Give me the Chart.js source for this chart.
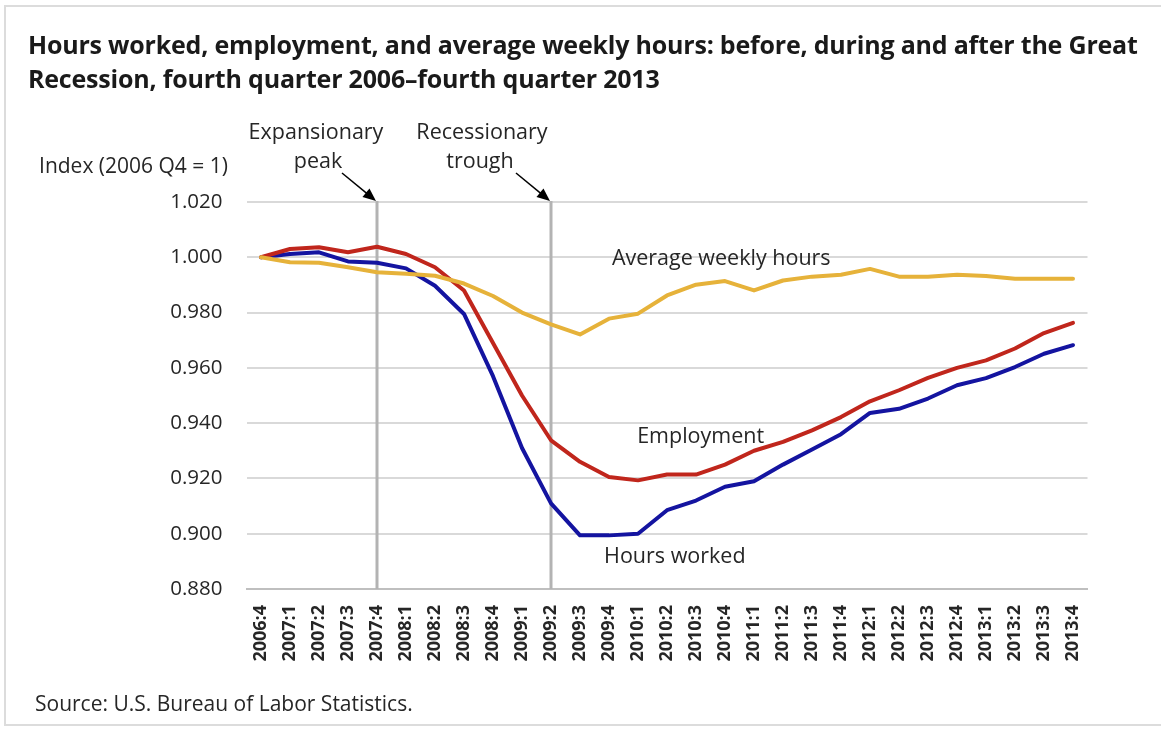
<!DOCTYPE html>
<html>
<head>
<meta charset="utf-8">
<script src="https://cdn.jsdelivr.net/npm/chart.js@4.4.1/dist/chart.umd.min.js"></script>
<style>
  html, body { margin: 0; padding: 0; background: #fff; overflow: hidden; }
  #wrap { position: relative; width: 1161px; height: 730px; }
  #frame { position: absolute; left: 4px; top: 5px; width: 1180px; height: 721px; border: 2px solid #dcdcdc; box-sizing: border-box; }
  #chart { position: absolute; left: 0; top: 0; }
  .txt { position: absolute; font-family: "Open Sans", sans-serif; color: #262626; white-space: nowrap; }
  #title { left: 28px; top: 27px; font-size: 25px; font-weight: 700; line-height: 34px; color: #1a1a1a; letter-spacing: -0.2px; }
  #ylabel { right: 933px; top: 151px; font-size: 21px; line-height: 28px; }
  #source { left: 35px; top: 689px; font-size: 21px; line-height: 28px; }
</style>
</head>
<body>
<div id="wrap">
  <div id="frame"></div>
  <canvas id="chart" width="1161" height="730"></canvas>
  <div class="txt" id="title">Hours worked, employment, and average weekly hours: before, during and after the Great<br>Recession, fourth quarter 2006–fourth  quarter 2013</div>
  <div class="txt" id="ylabel">Index (2006 Q4 = 1)</div>
  <div class="txt" id="source">Source: U.S. Bureau of Labor Statistics.</div>
</div>
<script>
const quarters = [
  '2006:4',
  '2007:1', '2007:2', '2007:3', '2007:4',
  '2008:1', '2008:2', '2008:3', '2008:4',
  '2009:1', '2009:2', '2009:3', '2009:4',
  '2010:1', '2010:2', '2010:3', '2010:4',
  '2011:1', '2011:2', '2011:3', '2011:4',
  '2012:1', '2012:2', '2012:3', '2012:4',
  '2013:1', '2013:2', '2013:3', '2013:4'
];

const hoursWorked = [
  1.000,
  1.0012, 1.0018, 0.9985, 0.998,
  0.996, 0.9897, 0.9795, 0.957,
  0.931, 0.911, 0.8994, 0.8994,
  0.900, 0.9085, 0.912, 0.917,
  0.919, 0.925, 0.9305, 0.936,
  0.9437, 0.9452, 0.9489, 0.9537,
  0.9563, 0.9603, 0.9651, 0.9682
];

const employment = [
  1.000,
  1.003, 1.0036, 1.0018, 1.0038,
  1.0012, 0.9964, 0.988, 0.969,
  0.950, 0.9338, 0.926, 0.9205,
  0.9193, 0.9214, 0.9214, 0.925,
  0.930, 0.9332, 0.9374, 0.9422,
  0.9479, 0.9519, 0.9564, 0.960,
  0.9627, 0.967, 0.9726, 0.9763
];

const avgWeeklyHours = [
  1.000,
  0.9982, 0.998, 0.9964, 0.9946,
  0.994, 0.9933, 0.9905, 0.986,
  0.980, 0.9757, 0.9721, 0.9778,
  0.9796, 0.9862, 0.9901, 0.9914,
  0.988, 0.9916, 0.993, 0.9937,
  0.9958, 0.993, 0.993, 0.9937,
  0.9932, 0.9922, 0.9922, 0.9922
];

// business cycle markers
const markers = [
  { quarter: '2007:4', lines: ['Expansionary', 'peak'] },
  { quarter: '2009:2', lines: ['Recessionary', 'trough'] }
];

// inline series labels: [text, quarter index where text starts, value at text middle]
const seriesLabels = [
  ['Average weekly hours', 12.1, 0.9994],
  ['Employment', 12.97, 0.935],
  ['Hours worked', 11.83, 0.8915]
];

const FONT = '"Open Sans", sans-serif';
// how far left of its line each marker's two text lines are centred
const markerTextShift = [[61, 59], [69, 71]];

const markerPlugin = {
  id: 'markers',
  beforeDatasetsDraw(chart) {
    const { ctx, chartArea, scales } = chart;
    ctx.save();
    ctx.strokeStyle = '#b3b3b3';
    ctx.lineWidth = 3;
    markers.forEach(m => {
      const x = scales.x.getPixelForValue(quarters.indexOf(m.quarter));
      ctx.beginPath();
      ctx.moveTo(x, chartArea.top - 1);
      ctx.lineTo(x, chartArea.bottom);
      ctx.stroke();
    });
    ctx.restore();
  },
  afterDraw(chart) {
    const { ctx, chartArea, scales } = chart;
    ctx.save();
    ctx.fillStyle = '#262626';
    ctx.font = '21.5px ' + FONT;
    ctx.textAlign = 'center';
    ctx.textBaseline = 'middle';
    markers.forEach((m, i) => {
      const x = scales.x.getPixelForValue(quarters.indexOf(m.quarter));
      const top = chartArea.top;
      ctx.fillText(m.lines[0], x - markerTextShift[i][0], top - 69);
      ctx.fillText(m.lines[1], x - markerTextShift[i][1], top - 40);

      // arrow
      const x0 = x - 35, y0 = top - 29, x1 = x - 1, y1 = top - 1;
      const ang = Math.atan2(y1 - y0, x1 - x0);
      ctx.strokeStyle = '#000';
      ctx.lineWidth = 1.5;
      ctx.beginPath();
      ctx.moveTo(x0, y0);
      ctx.lineTo(x1 - 10 * Math.cos(ang), y1 - 10 * Math.sin(ang));
      ctx.stroke();
      ctx.fillStyle = '#000';
      ctx.beginPath();
      ctx.moveTo(x1, y1);
      ctx.lineTo(x1 - 13 * Math.cos(ang) + 5.5 * Math.sin(ang), y1 - 13 * Math.sin(ang) - 5.5 * Math.cos(ang));
      ctx.lineTo(x1 - 13 * Math.cos(ang) - 5.5 * Math.sin(ang), y1 - 13 * Math.sin(ang) + 5.5 * Math.cos(ang));
      ctx.closePath();
      ctx.fill();
      ctx.fillStyle = '#262626';
    });

    ctx.textAlign = 'left';
    seriesLabels.forEach(([text, idx, val]) => {
      ctx.fillText(text, scales.x.getPixelForValue(idx), scales.y.getPixelForValue(val));
    });
    ctx.restore();
  }
};

new Chart(document.getElementById('chart'), {
  type: 'line',
  data: {
    labels: quarters,
    datasets: [
      { label: 'Average weekly hours', data: avgWeeklyHours, borderColor: '#e6b23a' },
      { label: 'Employment', data: employment, borderColor: '#c0261c' },
      { label: 'Hours worked', data: hoursWorked, borderColor: '#1414a0' }
    ]
  },
  options: {
    responsive: false,
    animation: false,
    elements: {
      line: { borderWidth: 4, tension: 0, borderCapStyle: 'round', borderJoinStyle: 'round' },
      point: { radius: 0, hoverRadius: 0 }
    },
    layout: { padding: { top: 202, right: 73.5, bottom: 41, left: 0 } },
    plugins: {
      legend: { display: false },
      title: { display: false },
      tooltip: { enabled: false }
    },
    scales: {
      x: {
        offset: true,
        grid: { display: false, drawTicks: false },
        border: { display: true, color: '#bfbfbf', width: 2 },
        ticks: {
          autoSkip: false,
          minRotation: 90,
          maxRotation: 90,
          padding: 16,
          color: '#262626',
          font: { family: FONT, size: 18, weight: 'bold' }
        },
        afterFit(scale) { scale.height = 100; }
      },
      y: {
        min: 0.88,
        max: 1.02,
        grid: { color: '#d9d9d9', lineWidth: 2, drawTicks: false },
        border: { display: false },
        ticks: {
          stepSize: 0.02,
          padding: 24,
          color: '#262626',
          font: { family: FONT, size: 20.5 },
          callback: v => v.toFixed(3)
        },
        afterFit(scale) { scale.width = 246.5; }
      }
    }
  },
  plugins: [markerPlugin]
});
</script>
</body>
</html>
